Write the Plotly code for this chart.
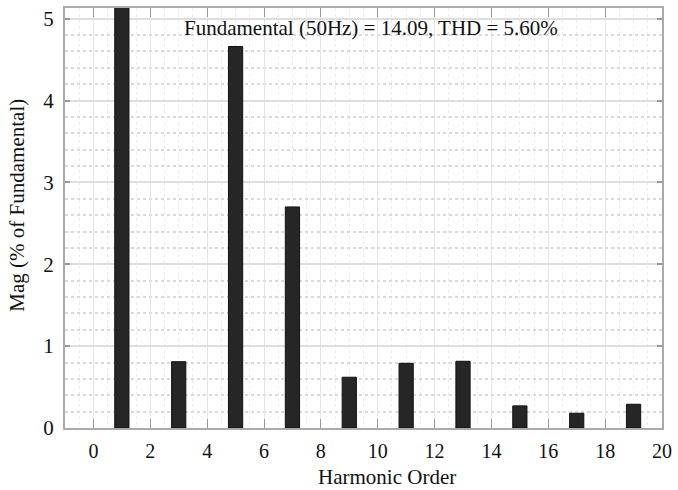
import plotly.graph_objects as go

# Harmonic spectrum (% of fundamental); the fundamental bar runs off the top
harmonic_order = [1, 3, 5, 7, 9, 11, 13, 15, 17, 19]
magnitude = [100, 0.81, 4.66, 2.70, 0.62, 0.79, 0.815, 0.27, 0.18, 0.29]

x_ticks = [0, 2, 4, 6, 8, 10, 12, 14, 16, 18, 20]
y_ticks = [0, 1, 2, 3, 4, 5]
summary = "Fundamental (50Hz) = 14.09, THD = 5.60%"
x_title = "Harmonic Order"
y_title = "Mag (% of Fundamental)"

serif = "Liberation Serif, Times New Roman, serif"

fig = go.Figure()
fig.add_trace(go.Bar(
    x=harmonic_order,
    y=magnitude,
    width=0.5,
    marker=dict(color="#262626", line=dict(color="#111111", width=1)),
    hoverinfo="x+y",
))

fig.add_annotation(
    text=summary, xref="paper", yref="paper", x=0.513, y=0.985,
    xanchor="center", yanchor="top", showarrow=False,
    font=dict(family=serif, size=21, color="#111111"),
)
# axis titles placed as annotations for precise positioning
fig.add_annotation(
    text=x_title, xref="paper", yref="paper", x=0.540, y=-0.116,
    xanchor="center", yanchor="middle", showarrow=False,
    font=dict(family=serif, size=21, color="#111111"),
)
fig.add_annotation(
    text=y_title, xref="paper", yref="paper", x=-0.08, y=0.53,
    xanchor="center", yanchor="middle", showarrow=False, textangle=-90,
    font=dict(family=serif, size=21, color="#111111"),
)

fig.update_layout(
    width=678, height=490,
    margin=dict(l=65, r=9, t=6, b=62),
    paper_bgcolor="white", plot_bgcolor="white",
    showlegend=False,
    font=dict(family=serif, size=21, color="#111111"),
)

fig.update_xaxes(
    range=[-1, 20], tickvals=x_ticks, ticktext=[str(v) for v in x_ticks],
    tickfont=dict(size=20),
    ticks="inside", ticklen=9, tickcolor="#999999", tickwidth=1,
    ticklabelstandoff=4, ticklabeloverflow="allow",
    showline=True, linecolor="#aaaaaa", linewidth=2, mirror="ticks",
    showgrid=True, gridcolor="#e6e6e6", gridwidth=1,
    minor=dict(dtick=0.5, showgrid=True, gridcolor="#ebebeb", griddash="dot"),
    zeroline=False,
)

fig.update_yaxes(
    range=[0, 5.13], tickvals=y_ticks, ticktext=[str(v) for v in y_ticks],
    ticks="inside", ticklen=5, tickcolor="#999999", tickwidth=2,
    ticklabelstandoff=5,
    showline=True, linecolor="#aaaaaa", linewidth=2, mirror="ticks",
    showgrid=True, gridcolor="#dedede", gridwidth=2,
    minor=dict(dtick=0.2, showgrid=True, gridcolor="#dadada", griddash="dot"),
    zeroline=False,
)

fig.write_html("out.html")
